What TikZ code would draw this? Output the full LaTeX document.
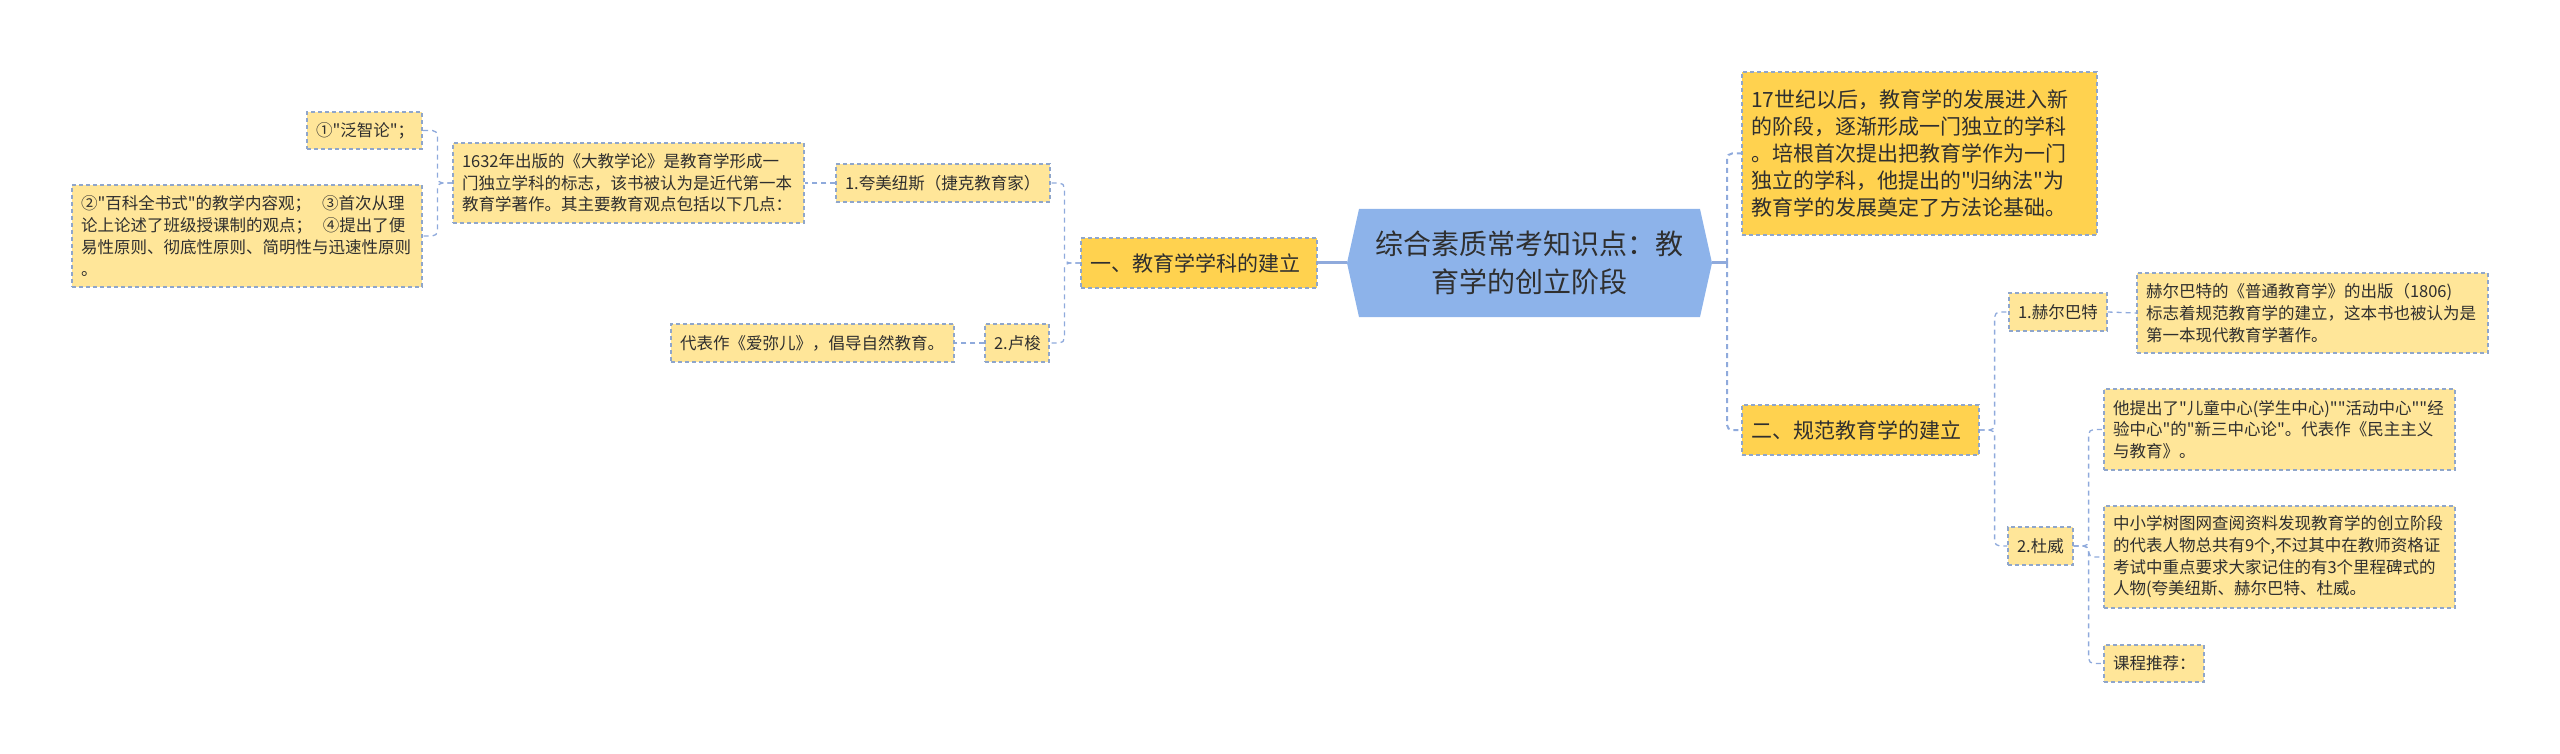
\documentclass[tikz,border=0pt]{standalone}
\usepackage{fontspec}
\setmainfont{Noto Sans CJK SC}[Ligatures=TeXOff]
\usetikzlibrary{calc}
\definecolor{gold}{HTML}{FFD24F}
\definecolor{light}{HTML}{FFE699}
\definecolor{bord}{HTML}{8FA6CB}
\definecolor{conn}{HTML}{8FAADC}
\definecolor{rootfill}{HTML}{8DB3EA}
\definecolor{txt}{HTML}{2F2F2F}
\begin{document}
\begin{tikzpicture}[x=1pt,y=-1pt,
  box/.style={draw=bord, dash pattern=on 4pt off 3pt, line width=1.2pt, fill=light,
    align=left, inner xsep=9pt, inner ysep=0pt, text=txt,
    font=\fontsize{16.5}{21.7}\selectfont},
  goldbox/.style={box, fill=gold, font=\fontsize{21}{27}\selectfont},
  link/.style={draw=conn, line width=1.3pt, dash pattern=on 5pt off 4pt, rounded corners=5pt},
  trunkline/.style={link, line width=2pt},
  mainline/.style={draw=conn, line width=3pt}]
\useasboundingbox (0,0) rectangle (2560,754);

% root
\fill[rootfill] (1359,209) -- (1347,263) -- (1359,317) -- (1700,317) -- (1712,263) -- (1700,209) -- cycle;
\node[font=\fontsize{28}{38}\selectfont, text=txt, align=center, minimum width=341pt, minimum height=108pt, inner sep=0pt] (root) at (1529.5,263) {综合素质常考知识点：教\\育学的创立阶段};
\coordinate (rootL) at (1347,263);
\coordinate (rootR) at (1712,263);

% left branch
\node[goldbox, text width=218pt, minimum height=50pt] (b1) at (1199,263) {一、教育学学科的建立};
\node[box, text width=196pt, minimum height=38pt] (k) at (943,183) {1.夸美纽斯（捷克教育家）};
\node[box, text width=333pt, minimum height=80pt] (kd) at (628.5,183) {1632年出版的《大教学论》是教育学形成一\\门独立学科的标志，该书被认为是近代第一本\\教育学著作。其主要教育观点包括以下几点：};
\node[box, text width=97pt, minimum height=37pt] (k1) at (364.5,130.5) {①"泛智论"；};
\node[box, text width=332pt, minimum height=102pt] (k2) at (247,236) {②"百科全书式"的教学内容观；~~③首次从理\\论上论述了班级授课制的观点；~~④提出了便\\易性原则、彻底性原则、简明性与迅速性原则\\。};
\node[box, text width=46pt, minimum height=38pt] (l) at (1017,343) {2.卢梭};
\node[box, text width=265pt, minimum height=38pt] (ld) at (812.5,343) {代表作《爱弥儿》，倡导自然教育。};

% right branch
\node[goldbox, text width=337pt, minimum height=163pt] (r1) at (1919.5,153.5) {17世纪以后，教育学的发展进入新\\的阶段，逐渐形成一门独立的学科\\。培根首次提出把教育学作为一门\\独立的学科，他提出的"归纳法"为\\教育学的发展奠定了方法论基础。};
\node[goldbox, text width=219pt, minimum height=50pt] (b2) at (1860.5,430) {二、规范教育学的建立};
\node[box, text width=80pt, minimum height=38pt] (h) at (2058,312) {1.赫尔巴特};
\node[box, text width=333pt, minimum height=80pt] (hd) at (2312.5,313) {赫尔巴特的《普通教育学》的出版（1806)\\标志着规范教育学的建立，这本书也被认为是\\第一本现代教育学著作。};
\node[box, text width=47pt, minimum height=38pt] (d) at (2040.5,546) {2.杜威};
\node[box, text width=333pt, minimum height=81pt] (d1) at (2279.5,429.5) {他提出了"儿童中心(学生中心)""活动中心""经\\验中心"的"新三中心论"。代表作《民主主义\\与教育》。};
\node[box, text width=333pt, minimum height=102pt] (d2) at (2279.5,557) {中小学树图网查阅资料发现教育学的创立阶段\\的代表人物总共有9个,不过其中在教师资格证\\考试中重点要求大家记住的有3个里程碑式的\\人物(夸美纽斯、赫尔巴特、杜威。};
\node[box, text width=82pt, minimum height=37pt] (d3) at (2154,663.5) {课程推荐：};

% connectors
\draw[mainline] (rootL) -- (b1.east);
\draw[mainline] (rootR) -- ++(15,0) coordinate (rt);
\draw[trunkline] (rt) |- (r1.west);
\draw[trunkline] (rt) |- (b2.west);

\draw[link] (b1.west) -- ++(-16,0) |- (k.east);
\draw[link] (b1.west) -- ++(-16,0) |- (l.east);
\draw[link] (k.west) -- (kd.east);
\draw[link] (l.west) -- (ld.east);
\draw[link] (kd.west) -- ++(-15,0) |- (k1.east);
\draw[link] (kd.west) -- ++(-15,0) |- (k2.east);

\draw[link] (b2.east) -- ++(15,0) |- (h.west);
\draw[link] (b2.east) -- ++(15,0) |- (d.west);
\draw[link] (h.east) -- (hd.west);
\draw[link] (d.east) -- ++(15,0) |- (d1.west);
\draw[link] (d.east) -- ++(15,0) |- (d2.west);
\draw[link] (d.east) -- ++(15,0) |- (d3.west);
\end{tikzpicture}
\end{document}
